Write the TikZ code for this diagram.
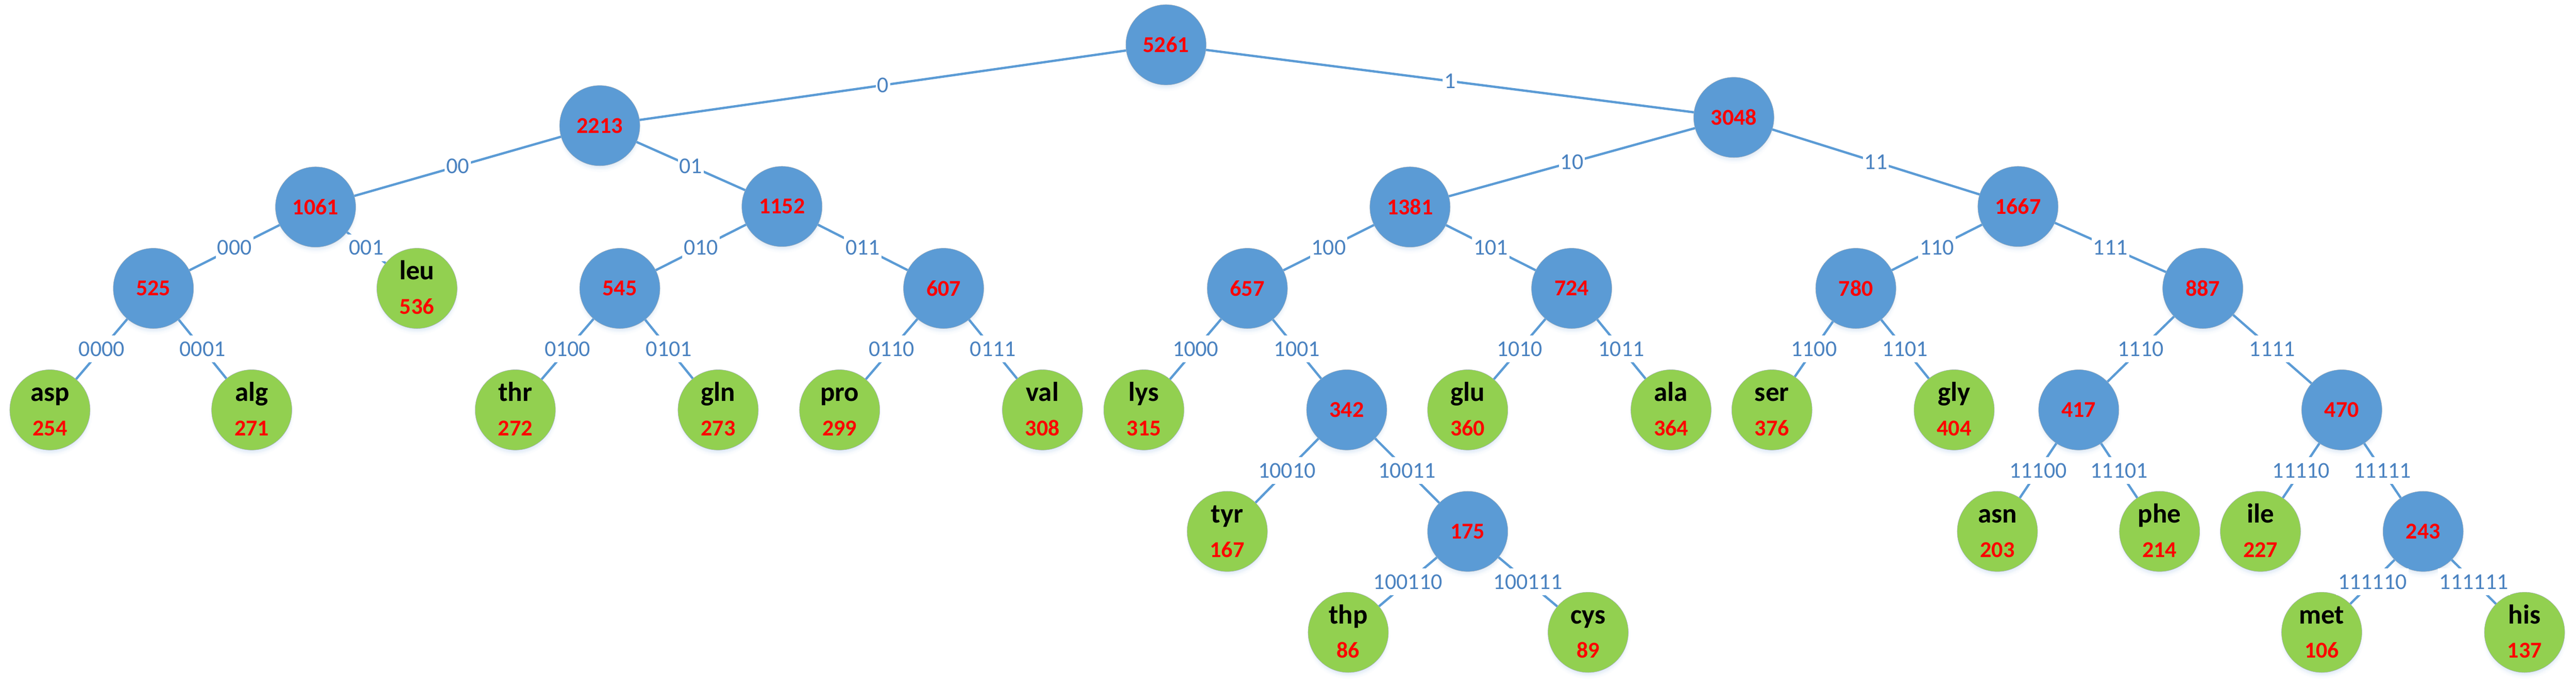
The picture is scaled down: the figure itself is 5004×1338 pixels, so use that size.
\documentclass[tikz,border=0pt]{standalone}
\usepackage{fontspec}
\setmainfont{Carlito}
\usetikzlibrary{shadows}
\definecolor{nodeblue}{RGB}{91,155,213}
\definecolor{leafgreen}{RGB}{146,208,80}
\definecolor{edgeblue}{RGB}{91,155,213}
\definecolor{labelblue}{RGB}{74,130,192}
\definecolor{shadowc}{RGB}{170,200,232}
\definecolor{numred}{RGB}{255,0,0}
\definecolor{rimgray}{RGB}{165,175,185}
\tikzset{
  basecirc/.style={circle, minimum size=156pt, inner sep=0pt, draw=rimgray, line width=0.6pt,
    circular drop shadow={shadow xshift=0pt, shadow yshift=-8pt, shadow scale=1.06, fill=shadowc, opacity=0.18},
    circular drop shadow={shadow xshift=0pt, shadow yshift=-6pt, shadow scale=1.02, fill=shadowc, opacity=0.3}},
  innernode/.style={basecirc, fill=nodeblue, text=numred, font=\fontsize{44}{50}\selectfont\bfseries},
  leafc/.style={basecirc, fill=leafgreen},
  leafname/.style={anchor=base, inner sep=0pt, font=\fontsize{53}{60}\selectfont\bfseries, text=black},
  leafnum/.style={anchor=base, inner sep=0pt, font=\fontsize{44}{50}\selectfont\bfseries, text=numred},
  link/.style={draw=edgeblue, line width=4.5pt},
  bitlabel/.style={fill=white, text=labelblue, font=\fontsize{44}{50}\selectfont,
    inner xsep=3pt, inner ysep=12pt, text height=28pt, text depth=0pt, pos=0.5}
}
\newcommand{\leafnode}[5]{%
  \node[leafc] (#1) at (#2,#3) {};
  \node[leafname] (#1-n) at (#2,#3-17) {#4};
  \node[leafnum] (#1-v) at (#2,#3+50) {#5};
}
\begin{document}
\begin{tikzpicture}[x=1pt,y=-1pt]
\useasboundingbox (0,0) rectangle (5004,1338);
% level 0-3 inner nodes
\node[innernode] (n5261) at (2265,87) {5261};
\node[innernode] (n2213) at (1165,244) {2213};
\node[innernode] (n3048) at (3368,228) {3048};
\node[innernode] (n1061) at (613,402) {1061};
\node[innernode] (n1152) at (1519,401) {1152};
\node[innernode] (n1381) at (2739,402) {1381};
\node[innernode] (n1667) at (3920,401) {1667};
\node[innernode] (n525) at (298,560) {525};
\node[innernode] (n545) at (1204,560) {545};
\node[innernode] (n607) at (1833,560) {607};
\node[innernode] (n657) at (2423,560) {657};
\node[innernode] (n724) at (3053,560) {724};
\node[innernode] (n780) at (3605,560) {780};
\node[innernode] (n887) at (4279,560) {887};
\node[innernode] (n342) at (2616,796) {342};
\node[innernode] (n417) at (4038,796) {417};
\node[innernode] (n470) at (4549,796) {470};
\node[innernode] (n175) at (2851,1032) {175};
\node[innernode] (n243) at (4707,1032) {243};
% leaves
\leafnode{leu}{810}{560}{leu}{536}
\leafnode{asp}{97}{796}{asp}{254}
\leafnode{alg}{489}{796}{alg}{271}
\leafnode{thr}{1001}{796}{thr}{272}
\leafnode{gln}{1395}{796}{gln}{273}
\leafnode{pro}{1631}{796}{pro}{299}
\leafnode{val}{2025}{796}{val}{308}
\leafnode{lys}{2222}{796}{lys}{315}
\leafnode{glu}{2851}{796}{glu}{360}
\leafnode{ala}{3246}{796}{ala}{364}
\leafnode{ser}{3442}{796}{ser}{376}
\leafnode{gly}{3796}{796}{gly}{404}
\leafnode{tyr}{2384}{1032}{tyr}{167}
\leafnode{asn}{3880}{1032}{asn}{203}
\leafnode{phe}{4195}{1032}{phe}{214}
\leafnode{ile}{4391}{1032}{ile}{227}
\leafnode{thp}{2619}{1228}{thp}{86}
\leafnode{cys}{3085}{1228}{cys}{89}
\leafnode{met}{4510}{1228}{met}{106}
\leafnode{his}{4904}{1228}{his}{137}
% edges
\draw[link] (n5261) -- node[bitlabel]{0} (n2213);
\draw[link] (n5261) -- node[bitlabel]{1} (n3048);
\draw[link] (n2213) -- node[bitlabel]{00} (n1061);
\draw[link] (n2213) -- node[bitlabel]{01} (n1152);
\draw[link] (n3048) -- node[bitlabel]{10} (n1381);
\draw[link] (n3048) -- node[bitlabel]{11} (n1667);
\draw[link] (n1061) -- node[bitlabel]{000} (n525);
\draw[link] (n1061) -- node[bitlabel]{001} (leu);
\draw[link] (n1152) -- node[bitlabel]{010} (n545);
\draw[link] (n1152) -- node[bitlabel]{011} (n607);
\draw[link] (n1381) -- node[bitlabel]{100} (n657);
\draw[link] (n1381) -- node[bitlabel]{101} (n724);
\draw[link] (n1667) -- node[bitlabel]{110} (n780);
\draw[link] (n1667) -- node[bitlabel]{111} (n887);
\draw[link] (n525) -- node[bitlabel]{0000} (asp);
\draw[link] (n525) -- node[bitlabel]{0001} (alg);
\draw[link] (n545) -- node[bitlabel]{0100} (thr);
\draw[link] (n545) -- node[bitlabel]{0101} (gln);
\draw[link] (n607) -- node[bitlabel]{0110} (pro);
\draw[link] (n607) -- node[bitlabel]{0111} (val);
\draw[link] (n657) -- node[bitlabel]{1000} (lys);
\draw[link] (n657) -- node[bitlabel]{1001} (n342);
\draw[link] (n724) -- node[bitlabel]{1010} (glu);
\draw[link] (n724) -- node[bitlabel]{1011} (ala);
\draw[link] (n780) -- node[bitlabel]{1100} (ser);
\draw[link] (n780) -- node[bitlabel]{1101} (gly);
\draw[link] (n887) -- node[bitlabel]{1110} (n417);
\draw[link] (n887) -- node[bitlabel]{1111} (n470);
\draw[link] (n342) -- node[bitlabel]{10010} (tyr);
\draw[link] (n342) -- node[bitlabel]{10011} (n175);
\draw[link] (n417) -- node[bitlabel]{11100} (asn);
\draw[link] (n417) -- node[bitlabel]{11101} (phe);
\draw[link] (n470) -- node[bitlabel]{11110} (ile);
\draw[link] (n470) -- node[bitlabel]{11111} (n243);
\draw[link] (n175) -- node[bitlabel]{100110} (thp);
\draw[link] (n175) -- node[bitlabel]{100111} (cys);
\draw[link] (n243) -- node[bitlabel]{111110} (met);
\draw[link] (n243) -- node[bitlabel]{111111} (his);
\end{tikzpicture}
\end{document}
